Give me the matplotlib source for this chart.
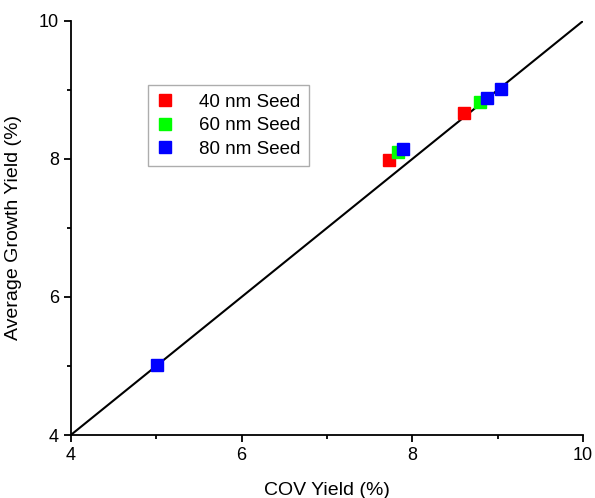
import matplotlib
matplotlib.use("Agg")
import matplotlib.pyplot as plt
from matplotlib.ticker import MultipleLocator

plt.rcParams['font.family'] = ['Liberation Sans', 'DejaVu Sans']

# data
x40 = [7.73, 8.61]
y40 = [7.99, 8.67]
x60 = [7.83, 8.79]
y60 = [8.10, 8.83]
x80 = [7.89, 8.88, 9.04, 5.01]
y80 = [8.14, 8.88, 9.01, 5.01]
line = [4, 10]

fig = plt.figure(figsize=(5.95, 4.98), dpi=100)
ax = fig.add_axes([0.119, 0.1265, 0.861, 0.8315])

ax.plot(line, line, color='black', lw=1.5, zorder=1)
ax.plot(x40, y40, 's', color='#ff0000', ms=8.5, ls='none', label='40 nm Seed', zorder=2)
ax.plot(x60, y60, 's', color='#00ff00', ms=8.5, ls='none', label='60 nm Seed', zorder=3)
ax.plot(x80, y80, 's', color='#0000ff', ms=8.5, ls='none', label='80 nm Seed', zorder=4)

ax.set_xlim(4, 10)
ax.set_ylim(4, 10)
ax.xaxis.set_major_locator(MultipleLocator(2))
ax.xaxis.set_minor_locator(MultipleLocator(1))
ax.yaxis.set_major_locator(MultipleLocator(2))
ax.yaxis.set_minor_locator(MultipleLocator(1))
ax.spines['top'].set_visible(False)
ax.spines['right'].set_visible(False)
for s in ['left', 'bottom']:
    ax.spines[s].set_linewidth(1.3)
ax.tick_params(which='major', length=5, width=1.3, labelsize=13)
ax.tick_params(which='minor', length=3, width=1.3)

ax.set_xlabel('COV Yield (%)', fontsize=14, labelpad=13)
ax.set_ylabel('Average Growth Yield (%)', fontsize=14, labelpad=12)

leg = ax.legend(loc='upper left', bbox_to_anchor=(0.15, 0.845), fontsize=13.5,
                fancybox=False, edgecolor='#999999', handlelength=0.9,
                handletextpad=1.4, borderpad=0.45, labelspacing=0.35,
                borderaxespad=0)
leg.get_frame().set_linewidth(1.0)

fig.savefig('out.png', dpi=100)
